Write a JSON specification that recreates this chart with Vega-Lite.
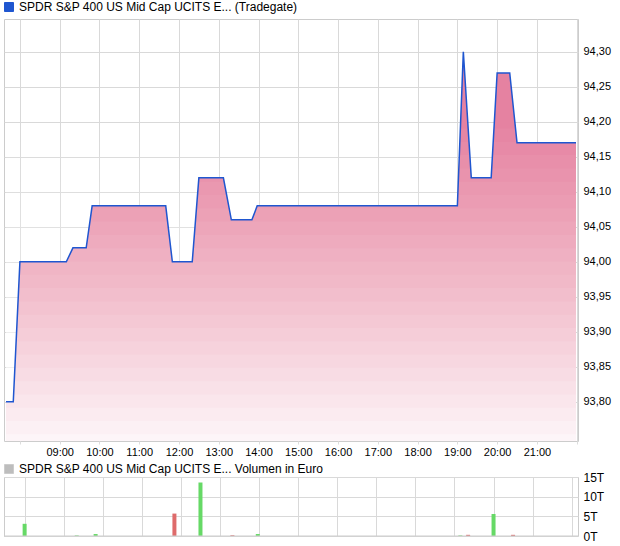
{
  "$schema": "https://vega.github.io/schema/vega-lite/v6.json",
  "padding": {"left": 2, "top": 0, "right": 0, "bottom": 0},
  "bounds": "flush",
  "spacing": 36,
  "resolve": {"scale": {"color": "independent", "stroke": "independent", "fill": "independent"}, "legend": {"color": "independent", "stroke": "independent", "fill": "independent"}},
  "config": {
    "font": "Liberation Sans",
    "view": {"stroke": "#cccccc", "strokeWidth": 1},
    "axis": {"gridColor": "#d9d9d9", "gridWidth": 1, "domain": false, "labelColor": "#000000", "labelFontSize": 11},
    "legend": {"labelFontSize": 12, "labelColor": "#000000", "symbolType": "square", "symbolSize": 81, "padding": 0, "labelOffset": 4, "labelLimit": 400}
  },
  "datasets": {
    "price": [
      {"t": "2024-01-01T07:39", "p": 93.80},
      {"t": "2024-01-01T07:50", "p": 93.80},
      {"t": "2024-01-01T08:00", "p": 94.00},
      {"t": "2024-01-01T09:10", "p": 94.00},
      {"t": "2024-01-01T09:20", "p": 94.02},
      {"t": "2024-01-01T09:40", "p": 94.02},
      {"t": "2024-01-01T09:49", "p": 94.08},
      {"t": "2024-01-01T11:40", "p": 94.08},
      {"t": "2024-01-01T11:50", "p": 94.00},
      {"t": "2024-01-01T12:20", "p": 94.00},
      {"t": "2024-01-01T12:30", "p": 94.12},
      {"t": "2024-01-01T13:07", "p": 94.12},
      {"t": "2024-01-01T13:19", "p": 94.06},
      {"t": "2024-01-01T13:50", "p": 94.06},
      {"t": "2024-01-01T13:58", "p": 94.08},
      {"t": "2024-01-01T19:00", "p": 94.08},
      {"t": "2024-01-01T19:09", "p": 94.30},
      {"t": "2024-01-01T19:21", "p": 94.12},
      {"t": "2024-01-01T19:51", "p": 94.12},
      {"t": "2024-01-01T20:00", "p": 94.27},
      {"t": "2024-01-01T20:19", "p": 94.27},
      {"t": "2024-01-01T20:30", "p": 94.17},
      {"t": "2024-01-01T21:59", "p": 94.17}
    ],
    "fade": [
      {"L": 94.1905}, {"L": 94.1715}, {"L": 94.1525}, {"L": 94.1335}, {"L": 94.1145}, {"L": 94.0955},
      {"L": 94.0765}, {"L": 94.0575}, {"L": 94.0385}, {"L": 94.0195}, {"L": 94.0005}, {"L": 93.9815},
      {"L": 93.9625}, {"L": 93.9435}, {"L": 93.9245}, {"L": 93.9055}, {"L": 93.8865}, {"L": 93.8675},
      {"L": 93.8485}, {"L": 93.8295}, {"L": 93.8105}, {"L": 93.7915}, {"L": 93.7725}, {"L": 93.7535}
    ],
    "vol": [
      {"t": "2024-01-01T08:00", "v": 3.1, "d": "up"},
      {"t": "2024-01-01T09:20", "v": 0.15, "d": "up"},
      {"t": "2024-01-01T09:49", "v": 0.5, "d": "up"},
      {"t": "2024-01-01T11:50", "v": 5.7, "d": "down"},
      {"t": "2024-01-01T12:30", "v": 13.6, "d": "up"},
      {"t": "2024-01-01T13:19", "v": 0.2, "d": "down"},
      {"t": "2024-01-01T13:58", "v": 0.5, "d": "up"},
      {"t": "2024-01-01T19:09", "v": 0.15, "d": "up"},
      {"t": "2024-01-01T19:21", "v": 0.3, "d": "down"},
      {"t": "2024-01-01T20:00", "v": 5.6, "d": "up"},
      {"t": "2024-01-01T20:30", "v": 0.3, "d": "down"}
    ],
    "volLegend": [
      {"s": "SPDR S&P 400 US Mid Cap UCITS E... Volumen in Euro", "v": 0}
    ]
  },
  "vconcat": [
    {
      "width": 574,
      "height": 422,
      "layer": [
        {
          "data": {"name": "price"},
          "mark": {"type": "area", "clip": true, "fill": "#e582a1"},
          "encoding": {
            "x": {
              "field": "t", "type": "temporal", "title": null,
              "scale": {"domain": [{"year": 2024, "month": 1, "date": 1, "hours": 7, "minutes": 36}, {"year": 2024, "month": 1, "date": 1, "hours": 22, "minutes": 2}]},
              "axis": {"tickCount": "hour", "labelExpr": "hours(datum.value) < 9 || hours(datum.value) > 21 ? '' : timeFormat(datum.value, '%H:%M')", "labelOverlap": false, "labelFlush": false, "ticks": true, "tickSize": 3, "tickColor": "#dddddd", "labelPadding": 2}
            },
            "y": {
              "field": "p", "type": "quantitative", "title": null,
              "scale": {"domain": [93.744, 94.347], "zero": false, "nice": false},
              "axis": {"orient": "right", "values": [93.8, 93.85, 93.9, 93.95, 94.0, 94.05, 94.1, 94.15, 94.2, 94.25, 94.3], "labelExpr": "replace(format(datum.value, '.2f'), '.', ',')", "ticks": false, "labelPadding": 5, "labelOverlap": false}
            }
          }
        },
        {
          "data": {"name": "fade"},
          "mark": {"type": "rect", "clip": true, "fill": "#ffffff"},
          "encoding": {
            "x": {"datum": {"year": 2024, "month": 1, "date": 1, "hours": 7, "minutes": 39}, "type": "temporal"},
            "x2": {"datum": {"year": 2024, "month": 1, "date": 1, "hours": 21, "minutes": 59}},
            "y": {"field": "L", "type": "quantitative", "title": null},
            "y2": {"datum": 93.744},
            "opacity": {"field": "L", "type": "quantitative", "scale": {"domain": [93.7535, 93.7725, 93.7915, 93.8105, 93.8675, 93.9815, 94.0955, 94.1905], "range": [0.3563, 0.2627, 0.2081, 0.1722, 0.1136, 0.0675, 0.0481, 0.0388]}, "legend": null}
          }
        },
        {
          "data": {"name": "price"},
          "transform": [{"calculate": "'SPDR S&P 400 US Mid Cap UCITS E... (Tradegate)'", "as": "series"}],
          "mark": {"type": "line", "clip": true, "strokeWidth": 1.5},
          "encoding": {
            "x": {"field": "t", "type": "temporal", "title": null},
            "y": {"field": "p", "type": "quantitative", "title": null},
            "stroke": {
              "field": "series", "type": "nominal",
              "scale": {"range": ["#1f56d0"]},
              "legend": {"orient": "none", "legendX": -1, "legendY": -18, "title": null,
                "encode": {"symbols": {"update": {"fill": {"value": "#1f56d0"}, "stroke": {"value": "#1a3370"}, "strokeWidth": {"value": 1}}}}}
            }
          }
        }
      ]
    },
    {
      "width": 574,
      "height": 59,
      "resolve": {"scale": {"color": "independent", "stroke": "independent", "fill": "independent"}, "legend": {"color": "independent", "stroke": "independent", "fill": "independent"}},
      "layer": [
        {
          "data": {"name": "vol"},
          "mark": {"type": "bar", "size": 4},
          "encoding": {
            "x": {
              "field": "t", "type": "temporal", "title": null,
              "scale": {"domain": [{"year": 2024, "month": 1, "date": 1, "hours": 7, "minutes": 36}, {"year": 2024, "month": 1, "date": 1, "hours": 22, "minutes": 2}]},
              "axis": {"tickCount": "hour", "labels": false, "ticks": false}
            },
            "y": {
              "field": "v", "type": "quantitative", "title": null,
              "scale": {"domain": [0, 15], "nice": false},
              "axis": {"orient": "right", "values": [0, 5, 10, 15], "labelExpr": "datum.value + 'T'", "ticks": false, "labelPadding": 5, "labelFontSize": 12, "labelOverlap": false}
            },
            "fill": {"field": "d", "type": "nominal", "scale": {"domain": ["up", "down"], "range": ["#66d966", "#de6b6b"]}, "legend": null}
          }
        },
        {
          "data": {"name": "volLegend"},
          "mark": {"type": "rule", "strokeWidth": 1},
          "encoding": {
            "y": {
              "field": "v", "type": "quantitative", "title": null,
              "axis": {"orient": "right", "values": [0, 5, 10, 15], "labelExpr": "datum.value + 'T'", "ticks": false, "labelPadding": 5, "labelFontSize": 12, "labelOverlap": false}
            },
            "color": {
              "field": "s", "type": "nominal",
              "scale": {"range": ["#cccccc"]},
              "legend": {"orient": "none", "legendX": -1, "legendY": -14, "title": null,
                "encode": {"symbols": {"update": {"fill": {"value": "#bdbdbd"}, "stroke": {"value": "#444444"}, "strokeWidth": {"value": 1}}}}}
            }
          }
        }
      ]
    }
  ]
}
